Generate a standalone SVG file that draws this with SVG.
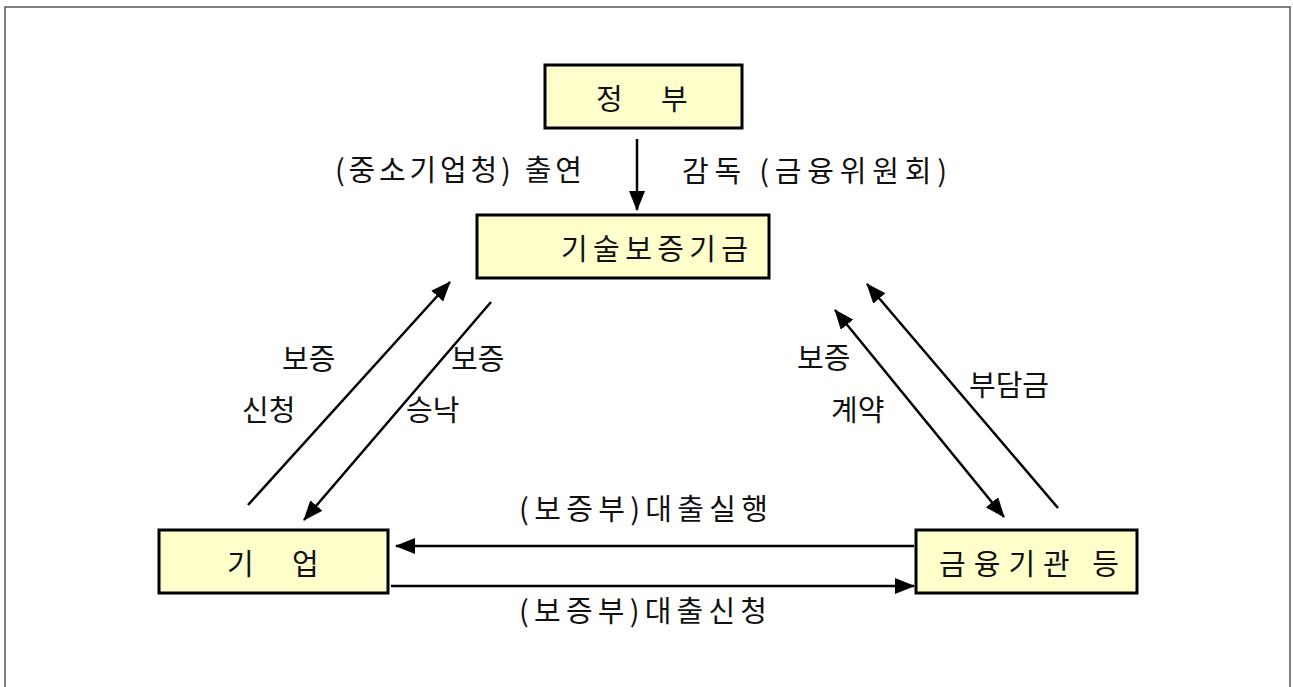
<svg xmlns="http://www.w3.org/2000/svg" width="1293" height="687" viewBox="0 0 1293 687">
<style>
.box{fill:#FFFFCC;stroke:#000;stroke-width:3}
.t{font-family:"Noto Sans CJK KR","Liberation Sans",sans-serif;font-size:29px;fill:#111}
.ln{stroke:#000;stroke-width:2.5;fill:none}
</style>
<defs>
<marker id="ah" viewBox="0 0 20 16" refX="19" refY="8" markerWidth="20" markerHeight="16" markerUnits="userSpaceOnUse" orient="auto-start-reverse">
<path d="M0,0 L20,8 L0,16 Z" fill="#000"/>
</marker>
</defs>
<rect width="1293" height="687" fill="#fff"/>
<path d="M5,690 L5,7 L1290,7 L1290,690" fill="none" stroke="#555" stroke-width="1.5"/>
<g id="connectors">
<line class="ln" x1="637" y1="139" x2="637" y2="210" marker-end="url(#ah)"/>
<line class="ln" x1="248" y1="505" x2="450" y2="282" marker-end="url(#ah)"/>
<line class="ln" x1="491" y1="302" x2="304" y2="520" marker-end="url(#ah)"/>
<line class="ln" x1="835" y1="310" x2="1004" y2="517" marker-start="url(#ah)" marker-end="url(#ah)"/>
<line class="ln" x1="1058" y1="508" x2="867" y2="284" marker-end="url(#ah)"/>
<line class="ln" x1="914" y1="546" x2="396" y2="546" marker-end="url(#ah)"/>
<line class="ln" x1="391" y1="586" x2="914" y2="586" marker-end="url(#ah)"/>
</g>
<g id="node-gov">
<rect class="box" x="545" y="65" width="197" height="63"/>
<text class="t" y="110"><tspan x="596">정</tspan><tspan x="661">부</tspan></text>
</g>
<g id="node-kibo">
<rect class="box" x="477" y="215" width="292" height="63"/>
<text class="t" x="561" y="260" textLength="187" lengthAdjust="spacing">기술보증기금</text>
</g>
<g id="node-company">
<rect class="box" x="159" y="530" width="229" height="63"/>
<text class="t" y="575"><tspan x="227">기</tspan><tspan x="292">업</tspan></text>
</g>
<g id="node-bank">
<rect class="box" x="916" y="530" width="221" height="63"/>
<text class="t" x="939" y="575" textLength="180" lengthAdjust="spacing">금융기관 등</text>
</g>
<g id="labels">
<text class="t" x="335" y="181" textLength="247" lengthAdjust="spacing">(중소기업청) 출연</text>
<text class="t" x="682" y="182" textLength="265" lengthAdjust="spacing">감독 (금융위원회)</text>
<text class="t" x="282" y="370">보증</text>
<text class="t" x="242" y="421">신청</text>
<text class="t" x="451" y="370">보증</text>
<text class="t" x="406" y="421">승낙</text>
<text class="t" x="797" y="369">보증</text>
<text class="t" x="831" y="421">계약</text>
<text class="t" x="969" y="396">부담금</text>
<text class="t" x="519" y="520" textLength="249" lengthAdjust="spacing">(보증부)대출실행</text>
<text class="t" x="519" y="622" textLength="248" lengthAdjust="spacing">(보증부)대출신청</text>
</g>
</svg>
